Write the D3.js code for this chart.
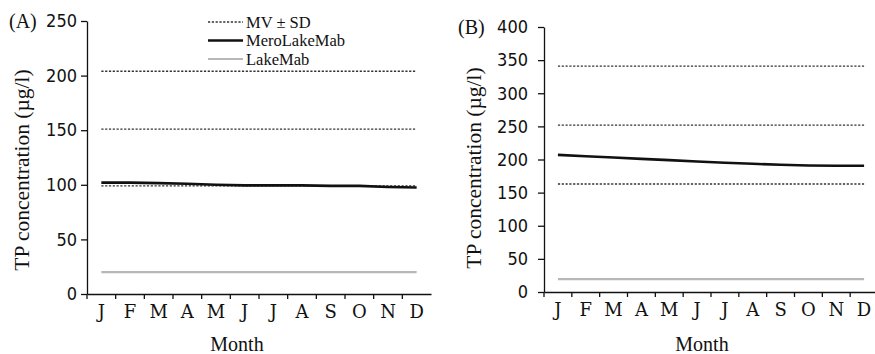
<!DOCTYPE html>
<html>
<head>
<meta charset="utf-8">
<script src="https://cdn.jsdelivr.net/npm/d3@7"></script>
<style>
	body { margin: 0; background: #fff; }
	.num { font-family: "DejaVu Sans Condensed", "DejaVu Sans", sans-serif; font-stretch: condensed; font-size: 18px; fill: #111; }
	.mon { font-family: "DejaVu Serif", serif; font-size: 18px; fill: #111; }
	.serif { font-family: "Liberation Serif", "Times New Roman", serif; fill: #111; }
</style>
</head>
<body>
<svg id="chart" width="875" height="354"></svg>
<script>
// month labels (J..D), used by index because letters repeat
var months = ["J", "F", "M", "A", "M", "J", "J", "A", "S", "O", "N", "D"];

// panel A
var meroA = [102, 102, 101.5, 101, 100, 99.5, 99.5, 99.5, 99, 99, 98, 97.5];
var lakeA = [20, 20, 20, 20, 20, 20, 20, 20, 20, 20, 20, 20];
var sdA = [99, 151, 204]; // MV - SD, MV, MV + SD
var ticksA = [0, 50, 100, 150, 200, 250];

// panel B
var meroB = [207, 205, 203, 201, 199, 197, 195, 193.5, 192, 191, 190.5, 190.5];
var lakeB = [19.5, 19.5, 19.5, 19.5, 19.5, 19.5, 19.5, 19.5, 19.5, 19.5, 19.5, 19.5];
var sdB = [163, 252, 341];
var ticksB = [0, 50, 100, 150, 200, 250, 300, 350, 400];

var legendItems = ["MV \u00b1 SD", "MeroLakeMab", "LakeMab"];

var svg = d3.select("#chart");

function drawPanel(p) {
	var g = svg.append("g");
	var idx = d3.range(months.length);

	var x = d3.scaleBand().domain(idx).range([p.x0, p.x1]);
	var y = d3.scaleLinear().domain([0, p.maxY]).range([p.yBot, p.yTop]);
	var cx = function (i) { return x(i) + x.bandwidth() / 2; };

	// y axis
	var gy = g.append("g")
		.attr("transform", "translate(" + p.x0 + ",0)")
		.call(d3.axisLeft(y).tickValues(p.ticks).tickSize(6).tickSizeOuter(0).tickPadding(p.pad));
	gy.selectAll("text").attr("class", "num").attr("font-size", null).attr("font-family", null);
	gy.selectAll("path, line").attr("stroke", "#111").attr("stroke-width", 1.3);

	// x axis, labels between the tick marks
	var gx = g.append("g")
		.attr("transform", "translate(0," + p.yBot + ")")
		.call(d3.axisBottom(x).tickSize(0).tickSizeOuter(0).tickPadding(11)
			.tickFormat(function (i) { return months[i]; }));
	gx.selectAll("text").attr("class", "mon").attr("font-size", null).attr("font-family", null);
	gx.select("path").attr("stroke", "#111").attr("stroke-width", 1.3);

	g.selectAll(".xtick").data(idx).enter().append("line")
		.attr("x1", function (i) { return x(i); })
		.attr("x2", function (i) { return x(i); })
		.attr("y1", p.yBot)
		.attr("y2", p.yBot + 5)
		.attr("stroke", "#111")
		.attr("stroke-width", 1.3);

	// MV +- SD dashed lines
	g.selectAll(".sd").data(p.sd).enter().append("line")
		.attr("x1", cx(0))
		.attr("x2", cx(months.length - 1))
		.attr("y1", function (d) { return y(d); })
		.attr("y2", function (d) { return y(d); })
		.attr("stroke", "#333")
		.attr("stroke-width", 1.3)
		.attr("stroke-dasharray", "2.2,1.6");

	var line = d3.line().x(function (d, i) { return cx(i); }).y(function (d) { return y(d); });

	g.append("path").datum(p.lake).attr("d", line)
		.attr("fill", "none").attr("stroke", "#b8b8b8").attr("stroke-width", 2.2);
	g.append("path").datum(p.mero).attr("d", line)
		.attr("fill", "none").attr("stroke", "#111").attr("stroke-width", 2.6);

	// panel letter
	g.append("text").attr("class", "serif")
		.attr("x", p.letterX).attr("y", p.yTop + 7)
		.attr("font-size", 20)
		.text(p.letter);

	// axis titles
	g.append("text").attr("class", "serif")
		.attr("transform", "translate(" + p.titleX + "," + p.titleY + ") rotate(-90)")
		.attr("text-anchor", "middle")
		.attr("font-size", 21.5)
		.text("TP concentration (\u00b5g/l)");

	g.append("text").attr("class", "serif")
		.attr("x", p.monthX).attr("y", 351)
		.attr("text-anchor", "middle")
		.attr("font-size", 20)
		.text("Month");
}

drawPanel({
	x0: 87, x1: 431, yTop: 21, yBot: 294, maxY: 250, ticks: ticksA, pad: 4,
	mero: meroA, lake: lakeA, sd: sdA,
	letter: "(A)", letterX: 9, titleX: 29, titleY: 170, monthX: 237
});

drawPanel({
	x0: 544, x1: 878, yTop: 27, yBot: 292, maxY: 400, ticks: ticksB, pad: 10,
	mero: meroB, lake: lakeB, sd: sdB,
	letter: "(B)", letterX: 458, titleX: 481, titleY: 168, monthX: 702
});

// legend (panel A only)
var legend = svg.append("g").attr("transform", "translate(208,22)");
var legStyle = [
	{ stroke: "#333", width: 1.3, dash: "2.2,1.6" },
	{ stroke: "#111", width: 2.6, dash: null },
	{ stroke: "#b8b8b8", width: 2.2, dash: null }
];
legendItems.forEach(function (name, k) {
	var row = legend.append("g").attr("transform", "translate(0," + (k * 18.5) + ")");
	row.append("line")
		.attr("x1", 0).attr("x2", 35).attr("y1", 0).attr("y2", 0)
		.attr("stroke", legStyle[k].stroke)
		.attr("stroke-width", legStyle[k].width)
		.attr("stroke-dasharray", legStyle[k].dash);
	row.append("text").attr("class", "serif")
		.attr("x", 38).attr("y", 5.5)
		.attr("font-size", 16.5)
		.text(name);
});
</script>
</body>
</html>
